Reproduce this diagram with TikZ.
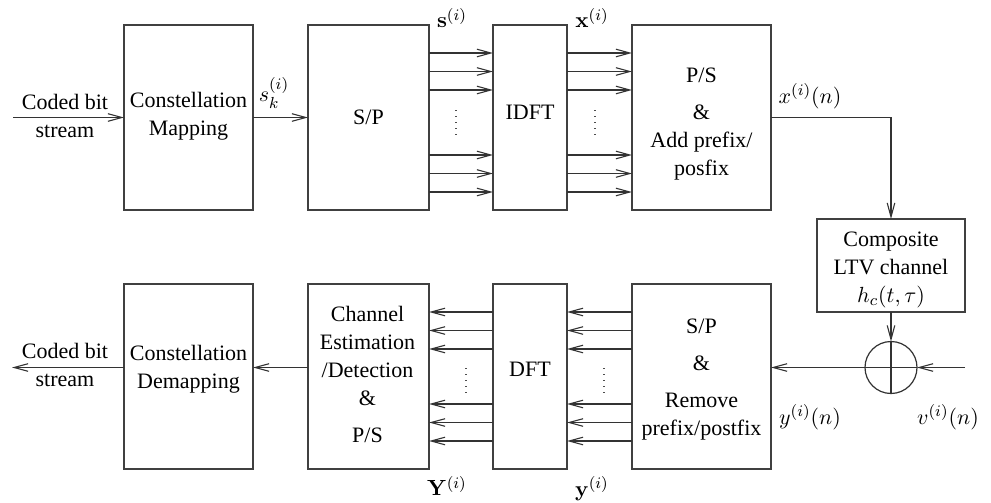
\documentclass[tikz,border=0pt]{standalone}
\usepackage[no-math]{fontspec}
\setmainfont{Liberation Serif}
\usetikzlibrary{arrows.meta}
\begin{document}
\begin{tikzpicture}[x=0.5pt,y=-0.5pt,
  font=\fontsize{11}{14}\selectfont,
  line width=0.55pt,
  blk/.style={draw=black!75, line width=0.6pt, inner sep=0pt, outer sep=0pt, minimum height=92.5pt},
  arr/.style={draw=black!80, -{Straight Barb[length=7pt,width=3.8pt]}},
  wire/.style={draw=black!80},
  lbl/.style={inner sep=0pt, align=center},
  vdotline/.style={draw=black!70, line width=0.6pt, dash pattern=on 0.6pt off 2.4pt}
]
\useasboundingbox (0,0) rectangle (991,503);

% ---------- transmitter (top row) ----------
\node[blk, minimum width=64.5pt] (cm)   at (188.5,117.5) {};
\node[blk, minimum width=60.5pt] (sp)   at (368.5,117.5) {};
\node[blk, minimum width=37pt]   (idft) at (530,117.5)   {};
\node[blk, minimum width=69.5pt] (ps)   at (701.5,117.5) {};
\node[lbl] (cmt)   at (188.5,116.5) {Constellation\\Mapping};
\node[lbl] (spt)   at (368.5,117.5) {S/P};
\node[lbl] (idftt) at (530,112.5)   {IDFT};
\node[lbl] (pst)   at (701.5,124.5) {P/S\\[4.5pt]\&\\Add prefix/\\posfix};

% ---------- channel and noise ----------
\node[blk, minimum width=74pt, minimum height=46.5pt] (chan) at (891,265.5) {};
\node[lbl] (chant) at (891,269.5) {Composite\\LTV channel\\$h_c(t,\tau)$};
\node[draw=black!80, circle, minimum size=26pt, inner sep=0pt, outer sep=0pt, line width=0.6pt] (add) at (891,367.5) {};

% ---------- receiver (bottom row) ----------
\node[blk, minimum width=64.5pt] (dm)   at (188.5,376.5) {};
\node[blk, minimum width=60.5pt] (ce)   at (368.5,376.5) {};
\node[blk, minimum width=37pt]   (dft)  at (530,376.5)   {};
\node[blk, minimum width=69.5pt] (sp2)  at (701.5,376.5) {};
\node[lbl] (dmt)  at (188.5,369.5) {Constellation\\Demapping};
\node[lbl] (cet)  at (367.5,374.5) {Channel\\Estimation\\/Detection\\\&\\[4.5pt]P/S};
\node[lbl] (dftt) at (530,369.5)   {DFT};
\node[lbl] (sp2t) at (701.5,379.5) {S/P\\[4.5pt]\&\\[4.5pt]Remove\\prefix/postfix};

% ---------- free ends ----------
\coordinate (inL)  at (13,117.5);
\coordinate (outL) at (12,367.5);
\coordinate (vin)  at (965,367.5);
\coordinate (rowB) at (0,367.5);

% ---------- transmitter connectors ----------
\draw[arr] (inL) -- (cm.west);
\draw[arr] (cm.east) -- (sp.west);
\foreach \y in {53,71.5,90,155,173.5,192}{
  \coordinate (t) at (0,\y);
  \draw[arr] (sp.east |- t) -- (idft.west |- t);
  \draw[arr] (idft.east |- t) -- (ps.west |- t);
}
\draw[vdotline] (456,110) -- (456,137);
\draw[vdotline] (595,110) -- (595,137);
\draw[arr] (ps.east) -| (chan.north);

% ---------- channel / adder ----------
\draw[arr] (chan.south) -- (add.north);
\draw[wire] (add.north) -- (add.south);
\draw[wire] (add.west) -- (add.east);
\draw[arr] (vin) -- (add.east);
\draw[arr] (add.west) -- (sp2.east |- add.west);

% ---------- receiver connectors ----------
\foreach \y in {312,330.5,349,404,422.5,441}{
  \coordinate (t) at (0,\y);
  \draw[arr] (sp2.west |- t) -- (dft.east |- t);
  \draw[arr] (dft.west |- t) -- (ce.east |- t);
}
\draw[vdotline] (466,368) -- (466,395);
\draw[vdotline] (604,368) -- (604,395);
\draw[arr] (ce.west |- rowB) -- (dm.east |- rowB);
\draw[arr] (dm.west |- rowB) -- (outL);

% ---------- signal labels ----------
\node[lbl] (lin)  at (65,116)  {Coded bit\\stream};
\node[lbl] (lout) at (65,365)  {Coded bit\\stream};
\node[lbl] (lsk)  at (274,93)  {$s_k^{(i)}$};
\node[lbl] (ls)   at (452,18)  {$\mathbf{s}^{(i)}$};
\node[lbl] (lx)   at (592,18)  {$\mathbf{x}^{(i)}$};
\node[lbl] (lxn)  at (810,96)  {$x^{(i)}(n)$};
\node[lbl] (lyn)  at (810,417) {$y^{(i)}(n)$};
\node[lbl] (lvn)  at (948,417) {$v^{(i)}(n)$};
\node[lbl] (lY)   at (447,486) {$\mathbf{Y}^{(i)}$};
\node[lbl] (ly)   at (592,489) {$\mathbf{y}^{(i)}$};
\end{tikzpicture}
\end{document}
